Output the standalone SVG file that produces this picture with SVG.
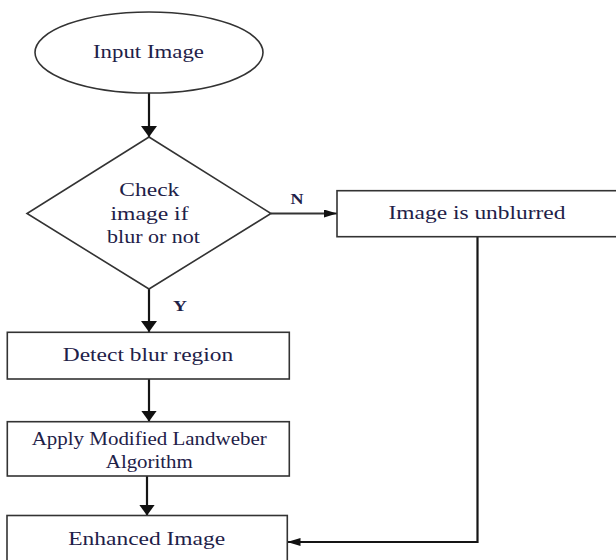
<svg xmlns="http://www.w3.org/2000/svg" width="616" height="560" viewBox="0 0 616 560">
<style>
.shape{fill:#fff;stroke:#333;stroke-width:1.6}
.t{font-family:"Liberation Serif","DejaVu Serif","Times New Roman",serif;font-size:18px;fill:#1e2148;text-anchor:middle}
.lbl{font-family:"Liberation Serif","DejaVu Serif","Times New Roman",serif;font-size:14px;font-weight:bold;fill:#1e2148;text-anchor:middle}
.c{fill:none;stroke:#151515;stroke-width:2.2}
.c2{fill:none;stroke:#333;stroke-width:1.8}
</style>
<defs>
<marker id="big" markerUnits="userSpaceOnUse" markerWidth="11" markerHeight="16" refX="11" refY="8" orient="auto">
<path d="M0,0 L11,8 L0,16 z" fill="#111"/>
</marker>
<marker id="small" markerUnits="userSpaceOnUse" markerWidth="13" markerHeight="8" refX="13" refY="4" orient="auto">
<path d="M0,0 L13,4 L0,8 z" fill="#111"/>
</marker>
</defs>
<rect width="616" height="560" fill="#fff"/>
<g id="connectors">
<line class="c" x1="149" y1="93" x2="149" y2="137" marker-end="url(#big)"/>
<line class="c2" x1="271" y1="213.5" x2="337" y2="213.5" marker-end="url(#small)"/>
<line class="c" x1="149" y1="289" x2="149" y2="332" marker-end="url(#big)"/>
<line class="c" x1="149" y1="379" x2="149" y2="421.5" marker-end="url(#big)"/>
<line class="c" x1="147" y1="476" x2="147" y2="515.5" marker-end="url(#big)"/>
<polyline class="c" points="477.5,236.5 477.5,542 287.5,542" marker-end="url(#small)"/>
<text class="lbl" x="297" y="204" textLength="13" lengthAdjust="spacingAndGlyphs">N</text>
<text class="lbl" x="180" y="311" textLength="14" lengthAdjust="spacingAndGlyphs">Y</text>
</g>
<g id="input">
<ellipse class="shape" cx="149" cy="52.5" rx="114" ry="40.5"/>
<text class="t" x="148.5" y="58.3" textLength="111" lengthAdjust="spacingAndGlyphs">Input Image</text>
</g>
<g id="check">
<polygon class="shape" points="149,137 271,213.5 149,289 27,213.5"/>
<text class="t" x="149.3" y="196.3" textLength="60" lengthAdjust="spacingAndGlyphs">Check</text>
<text class="t" x="149.5" y="219.6" textLength="78" lengthAdjust="spacingAndGlyphs">image if</text>
<text class="t" x="153.5" y="243.3" textLength="93" lengthAdjust="spacingAndGlyphs">blur or not</text>
</g>
<g id="unblurred">
<rect class="shape" x="337" y="190.7" width="290" height="46"/>
<text class="t" x="477" y="218.8" textLength="177" lengthAdjust="spacingAndGlyphs">Image is unblurred</text>
</g>
<g id="detect">
<rect class="shape" x="7.3" y="332.3" width="282" height="46.7"/>
<text class="t" x="148" y="361" textLength="170.5" lengthAdjust="spacingAndGlyphs">Detect blur region</text>
</g>
<g id="apply">
<rect class="shape" x="7.3" y="421.7" width="282" height="54.3"/>
<text class="t" x="149.2" y="445" textLength="235" lengthAdjust="spacingAndGlyphs">Apply Modified Landweber</text>
<text class="t" x="149.3" y="467.5" textLength="87" lengthAdjust="spacingAndGlyphs">Algorithm</text>
</g>
<g id="enhanced">
<rect class="shape" x="7" y="515.5" width="280.3" height="60"/>
<text class="t" x="146.7" y="545" textLength="157" lengthAdjust="spacingAndGlyphs">Enhanced Image</text>
</g>
</svg>
